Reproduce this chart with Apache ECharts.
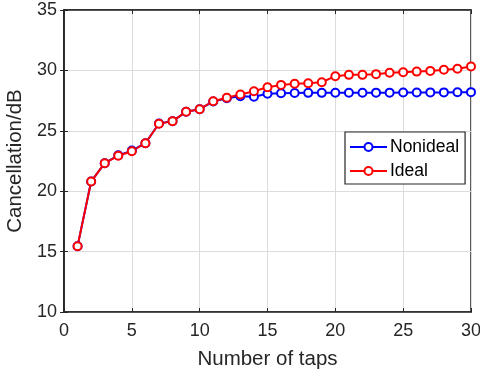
<!DOCTYPE html>
<html><head><meta charset="utf-8">
<script src="https://cdn.jsdelivr.net/npm/echarts@6/dist/echarts.min.js"></script>
<style>html,body{margin:0;padding:0;background:#fff}#c{width:480px;height:377px}</style>
</head><body><div id="c"></div>
<script>
const taps = [1,2,3,4,5,6,7,8,9,10,11,12,13,14,15,16,17,18,19,20,21,22,23,24,25,26,27,28,29,30];
const nonideal = [15.45,20.8,22.32,22.97,23.36,23.97,25.6,25.8,26.57,26.79,27.42,27.7,27.86,27.82,28.06,28.11,28.13,28.14,28.14,28.15,28.15,28.15,28.16,28.16,28.17,28.17,28.18,28.18,28.19,28.2];
const ideal = [15.45,20.8,22.32,22.93,23.31,23.97,25.58,25.8,26.57,26.79,27.45,27.73,28.0,28.28,28.6,28.8,28.89,28.94,29.02,29.52,29.63,29.63,29.69,29.8,29.85,29.9,29.96,30.05,30.13,30.32];
const xTicks = [0,5,10,15,20,25,30];
const yTicks = [10,15,20,25,30,35];

const font = 'Liberation Sans, Arial, sans-serif';
const chart = echarts.init(document.getElementById('c'), null, {renderer:'canvas'});
const pair = arr => taps.map((t,i)=>[t,arr[i]]);
chart.setOption({
  animation:false,
  grid:{left:64,right:9,top:10,bottom:65,containLabel:false,outerBoundsMode:'none',show:true,borderColor:'#262626',borderWidth:1.5},
  legend:{
    left:345, top:132, width:119, height:50, orient:'vertical',
    itemWidth:37, itemHeight:10, itemGap:6, padding:[6,6,4,4],
    borderColor:'#262626', borderWidth:1.2, backgroundColor:'#fff',
    textStyle:{fontFamily:font,fontSize:17.5,color:'#000',padding:[0,0,0,-2]},
    data:['Nonideal','Ideal']
  },
  xAxis:[{
    type:'value', min:0, max:30, interval:5,
    name:'Number of taps', nameLocation:'middle', nameGap:37,
    nameTextStyle:{fontFamily:font,fontSize:20.5,color:'#262626'},
    axisLine:{show:true,lineStyle:{color:'#262626',width:1.5}},
    axisTick:{show:true,inside:true,length:4,lineStyle:{color:'#262626'}},
    axisLabel:{fontFamily:font,fontSize:18,color:'#262626',margin:10,
      formatter:v=>xTicks.includes(v)?String(v):''},
    splitLine:{show:true,lineStyle:{color:'#dcdcdc',width:1}}
  },{
    type:'value', min:0, max:30, interval:5, position:'top',
    axisLine:{show:true,lineStyle:{color:'#262626',width:1.5}},
    axisTick:{show:true,inside:true,length:4,lineStyle:{color:'#262626'}},
    axisLabel:{show:false}, splitLine:{show:false}
  }],
  yAxis:[{
    type:'value', min:10, max:35, interval:5,
    name:'Cancellation/dB', nameLocation:'middle', nameGap:35,
    nameTextStyle:{fontFamily:font,fontSize:20.5,color:'#262626'},
    axisLine:{show:true,lineStyle:{color:'#262626',width:1.5}},
    axisTick:{show:true,inside:true,length:4,lineStyle:{color:'#262626'}},
    axisLabel:{fontFamily:font,fontSize:18,color:'#262626',margin:7,
      formatter:v=>yTicks.includes(v)?String(v):''},
    splitLine:{show:true,lineStyle:{color:'#dcdcdc',width:1}}
  },{
    type:'value', min:10, max:35, interval:5, position:'right',
    axisLine:{show:true,lineStyle:{color:'#262626',width:1.5}},
    axisTick:{show:true,inside:true,length:4,lineStyle:{color:'#262626'}},
    axisLabel:{show:false}, splitLine:{show:false}
  }],
  series:[
    {name:'Nonideal',type:'line',data:pair(nonideal),symbol:'emptyCircle',symbolSize:8,
     lineStyle:{color:'#0000ff',width:2},itemStyle:{color:'#0000ff',borderWidth:1.5}},
    {name:'Ideal',type:'line',data:pair(ideal),symbol:'emptyCircle',symbolSize:8,
     lineStyle:{color:'#ff0000',width:2},itemStyle:{color:'#ff0000',borderWidth:1.5}}
  ]
});
</script></body></html>
